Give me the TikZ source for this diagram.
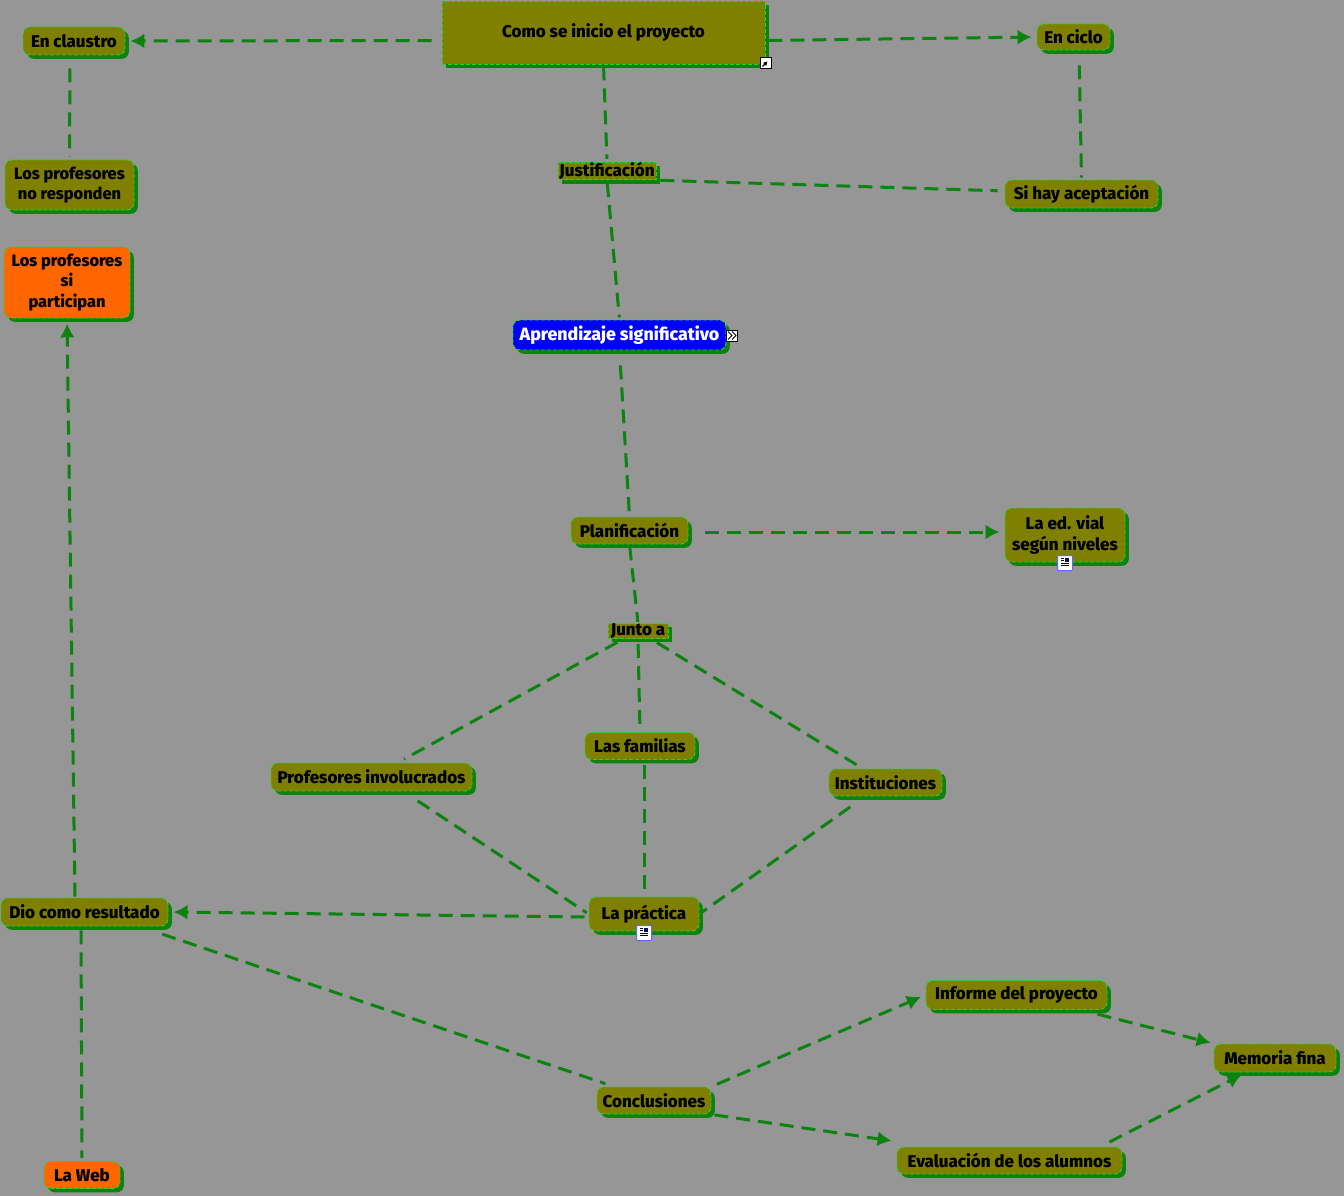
\documentclass[tikz,border=0pt]{standalone}
\usepackage{fontspec}
\setmainfont{Fira Sans}[BoldFont={Fira Sans ExtraBold}]
\usepackage{tikz}
\usetikzlibrary{arrows.meta,shadows}
\definecolor{mapgray}{HTML}{969696}
\definecolor{mapolive}{HTML}{808000}
\definecolor{maporange}{HTML}{FF6600}
\definecolor{mapgreen}{HTML}{0C820F}
\definecolor{maplime}{HTML}{33CC33}

\begin{document}
\begin{tikzpicture}[
    x=1pt, y=-1pt,
    concept/.style={draw=maplime, dashed, dash pattern=on 4pt off 2pt, line width=0.9pt, rounded corners=7pt, align=center, fill=mapolive, inner sep=0pt,
        font=\fontsize{17}{20.5}\selectfont\bfseries, text=black,
        general shadow={fill=mapgreen, draw=none, solid, shadow xshift=3.8pt, shadow yshift=-3.8pt}},
    phrase/.style={concept, rounded corners=0pt},
    result/.style={concept, fill=maporange},
    topic/.style={concept, fill=blue, text=white, font=\fontsize{17.8}{20.5}\selectfont\bfseries},
    narrow/.style={font=\fontsize{16.4}{20.5}\selectfont\bfseries},
    link/.style={draw=mapgreen, line width=3pt, dash pattern=on 14pt off 8pt, shorten <=7pt, shorten >=7pt},
    line/.style={link, -{Latex[length=14pt,width=15pt]}, shorten >=5pt},
    iconbox/.style={draw=black, fill=white, line width=1pt, minimum size=11pt, inner sep=0pt}
]
\fill[mapgray] (0,0) rectangle (1344,1196);
\useasboundingbox (0,0) rectangle (1344,1196);

\node[phrase, minimum width=323pt, minimum height=63pt] (root) at (603.5,32.5) {Como se inicio el proyecto};
\node[concept, minimum width=102pt, minimum height=28pt] (claustro) at (74,41) {En claustro};
\node[concept, minimum width=73pt, minimum height=26pt] (ciclo) at (1073.5,37) {En ciclo};
\node[concept, narrow, minimum width=129pt, minimum height=50pt] (noresp) at (69.5,185) {Los profesores\\no responden};
\node[phrase, minimum width=98pt, minimum height=17pt] (justif) at (607,171) {Justificación};
\node[concept, minimum width=153pt, minimum height=28pt] (acepta) at (1081.5,194) {Si hay aceptación};
\node[result, narrow, minimum width=126pt, minimum height=71pt] (particip) at (67,282.5) {Los profesores\\si\\participan};
\node[topic, minimum width=213pt, minimum height=30pt] (aprend) at (619.5,335) {Aprendizaje significativo};
\node[concept, minimum width=117pt, minimum height=27pt] (planif) at (629.5,530.5) {Planificación};
\node[concept, minimum width=120pt, minimum height=54pt] (vial) at (1065,535) {La ed. vial\\según niveles};
\node[phrase, minimum width=60pt, minimum height=15pt] (junto) at (638,631) {Junto a};
\node[concept, minimum width=110pt, minimum height=27pt] (familias) at (640,746) {Las familias};
\node[concept, minimum width=201pt, minimum height=28pt] (involuc) at (371.5,777) {Profesores involucrados};
\node[concept, minimum width=113pt, minimum height=27pt] (instit) at (885.5,782.5) {Instituciones};
\node[concept, minimum width=110pt, minimum height=34pt] (practica) at (644,914) {La práctica};
\node[concept, minimum width=167pt, minimum height=28pt] (dio) at (84.5,912) {Dio como resultado};
\node[concept, minimum width=114pt, minimum height=27pt] (conclu) at (654,1100.5) {Conclusiones};
\node[concept, minimum width=181pt, minimum height=29pt] (informe) at (1016.5,995) {Informe del proyecto};
\node[concept, minimum width=122pt, minimum height=28pt] (memoria) at (1275,1058) {Memoria fina};
\node[concept, minimum width=225pt, minimum height=27pt] (evalua) at (1009.5,1160.5) {Evaluación de los alumnos};
\node[result, minimum width=76pt, minimum height=27pt] (web) at (82,1175) {La Web};

% enlaces
\draw[line, shorten <=10pt] ([yshift=-8pt]root.west) -- (claustro.east);
\draw[line, shorten <=3pt] ([yshift=-8pt]root.east) -- (ciclo.west);
\draw[link, shorten <=13pt, shorten >=3pt] ([xshift=-4pt]claustro.south) -- (noresp.north);
\draw[link, shorten <=2pt, shorten >=3pt] (root.south) -- (justif.north);
\draw[link, shorten <=4pt] (justif.south east) -- ([yshift=3pt]acepta.west);
\draw[link, shorten <=15pt, shorten >=2pt] ([xshift=5.5pt]ciclo.south) -- (acepta.north);
\draw[link, shorten <=3pt, shorten >=2pt] (justif.south) -- (aprend.north);
\draw[link, shorten <=15pt, shorten >=1pt] (aprend.south) -- (planif.north);
\draw[line, shorten <=17pt] ([yshift=-1.5pt]planif.east) -- ([yshift=3pt]vial.west);
\draw[link, shorten <=2pt, shorten >=1pt] (planif.south) -- (junto.north);
\draw[link] (junto) -- (involuc);
\draw[link, shorten <=5pt, shorten >=3pt] (junto.south) -- (familias.north);
\draw[link] (junto) -- (instit);
\draw[link, shorten <=17pt, shorten >=2pt] ([xshift=32pt]involuc.south) -- (practica.west);
\draw[link, shorten <=5pt, shorten >=1pt] ([xshift=4pt]familias.south) -- (practica.north);
\draw[link, shorten <=18pt, shorten >=4pt] ([xshift=-20.5pt]instit.south) -- (practica.east);
\draw[line, shorten <=4pt] ([yshift=-3pt]practica.west) -- (dio.east);
\draw[line, shorten <=1pt] ([xshift=-9.5pt]dio.north) -- (particip.south);
\draw[link, shorten <=4pt, shorten >=3pt] ([xshift=-3.5pt]dio.south) -- (web.north);
\draw[link, shorten <=24pt, shorten >=9pt] ([xshift=55pt]dio.south) -- ([xshift=-40pt]conclu.north);
\draw[line, shorten <=6pt] (conclu.north east) -- (informe.west);
\draw[line, shorten <=3pt] (conclu.south east) -- ([yshift=5pt]evalua.north west);
\draw[line, shorten <=17pt, shorten >=3pt] ([xshift=64.5pt]informe.south) -- (memoria.north west);
\draw[line, shorten <=10pt] ([xshift=91pt]evalua.north) -- ([xshift=-29pt]memoria.south);

% iconos
\node[iconbox] (rooticon) at (765.5,63.5) {};
\draw[line width=1.2pt, -{Latex[length=4pt,width=5pt]}] (rooticon.south west) ++(3,-3) -- ++(5,-5);
\node[iconbox] (aprendicon) at (732,335.5) {};
\draw[line width=1pt] (aprendicon.center) ++(-4,-4) -- ++(4,4) -- ++(-4,4) (aprendicon.center) ++(0,-4) -- ++(4,4) -- ++(-4,4);
\foreach \name/\xpos/\ypos in {vialicon/1065/563, practicaicon/644/933} {
  \node[iconbox, draw=blue!60!white, rounded corners=1pt, fill=white, minimum size=15pt] (\name) at (\xpos,\ypos) {};
  \fill[blue!50!black] (\name.center) ++(0,-5) rectangle ++(4,4);
  \draw[black, line width=0.6pt] (\name.center) ++(-4,-5) -- ++(3,0) ++(-3,2.5) -- ++(3,0) ++(-3,2.5) -- ++(8,0) ++(-8,2.5) -- ++(8,0);
}
\end{tikzpicture}
\end{document}
